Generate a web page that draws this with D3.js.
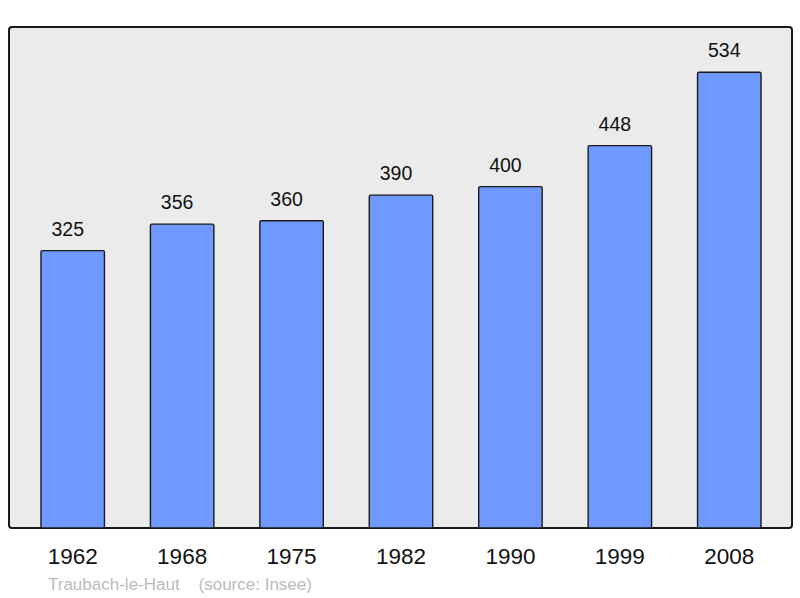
<!DOCTYPE html>
<html>
<head>
<meta charset="utf-8">
<script src="https://cdn.jsdelivr.net/npm/d3@7"></script>
<style>
  body { margin: 0; background: #fff; }
  text { font-family: "Liberation Sans", Arial, sans-serif; }
</style>
</head>
<body>
<svg id="chart" width="800" height="598"></svg>
<script>
var years = ['1962', '1968', '1975', '1982', '1990', '1999', '2008'];
var population = [325, 356, 360, 390, 400, 448, 534];
var sourceLabel = 'Traubach-le-Haut    (source: Insee)';

var svg = d3.select('#chart');

var x = d3.scaleBand()
	.domain(years)
	.range([18, 784])
	.paddingInner(0.42)
	.paddingOuter(0.21);

var y = d3.scaleLinear()
	.domain([0, 587])
	.range([528, 27]);

// frame
svg.append('rect')
	.attr('x', 9).attr('y', 27)
	.attr('width', 783).attr('height', 501)
	.attr('rx', 3)
	.style('fill', '#ebebeb')
	.style('stroke', '#1a1a1a')
	.style('stroke-width', 2);

// bars
svg.selectAll('rect.bar')
	.data(population)
	.enter().append('rect')
	.attr('class', 'bar')
	.attr('x', function (d, i) { return x(years[i]); })
	.attr('y', function (d) { return y(d); })
	.attr('width', x.bandwidth())
	.attr('height', function (d) { return y(0) - y(d); })
	.attr('rx', 1.5)
	.style('fill', '#7099ff')
	.style('stroke', '#1a1a1a')
	.style('stroke-width', 1.4);

// value labels (sit a little left of the bar centre, like the original)
svg.selectAll('text.value')
	.data(population)
	.enter().append('text')
	.attr('class', 'value')
	.attr('x', function (d, i) { return x(years[i]) + x.bandwidth() / 2 - 5; })
	.attr('y', function (d) { return y(d) - 15; })
	.attr('text-anchor', 'middle')
	.style('font-size', '19.5px')
	.style('fill', '#111')
	.text(function (d) { return d; });

// year labels
var xAxis = svg.append('g');
xAxis.selectAll('text')
	.data(years)
	.enter().append('text')
	.attr('x', function (d) { return x(d) + x.bandwidth() / 2; })
	.attr('y', 564)
	.attr('text-anchor', 'middle')
	.style('font-size', '22.5px')
	.style('fill', '#111')
	.text(function (d) { return d; });

// source
svg.append('text')
	.attr('x', 48).attr('y', 590)
	.style('font-size', '17px')
	.style('fill', '#bbbbbb')
	.style('white-space', 'pre')
	.attr('xml:space', 'preserve')
	.text(sourceLabel);
</script>
</body>
</html>
